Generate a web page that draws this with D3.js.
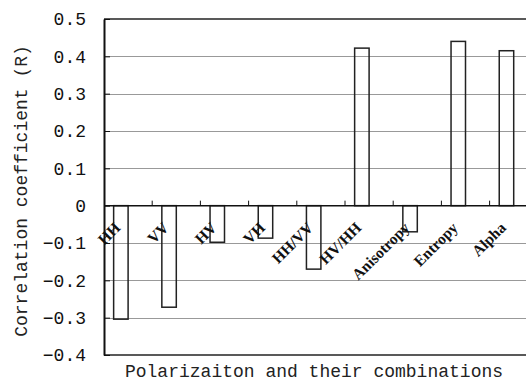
<!DOCTYPE html>
<html>
<head>
<meta charset="utf-8">
<script src="https://cdn.jsdelivr.net/npm/d3@7"></script>
<style>
  html, body { margin: 0; padding: 0; background: #fff; }
  svg { display: block; overflow: hidden; }
</style>
</head>
<body>
<div id="chart"></div>
<script>
const categories = ['HH', 'VV', 'HV', 'VH', 'HH/VV', 'HV/HH', 'Anisotropy', 'Entropy', 'Alpha'];
const values = [-0.304, -0.272, -0.098, -0.087, -0.17, 0.422, -0.07, 0.44, 0.415];
const yTicks = [0.5, 0.4, 0.3, 0.2, 0.1, 0, -0.1, -0.2, -0.3, -0.4];

const width = 526;
const height = 383;
const margin = { top: 19, left: 104, bottom: 28 };
const bandW = 48.2;

const svg = d3.select('#chart').append('svg')
  .attr('width', width)
  .attr('height', height);

const x = d3.scaleBand()
  .domain(categories)
  .range([margin.left, margin.left + bandW * categories.length])
  .padding(0);

const y = d3.scaleLinear()
  .domain([-0.4, 0.5])
  .range([height - margin.bottom, margin.top]);

const right = x.range()[1];
const mono = '"Liberation Mono", "DejaVu Sans Mono", monospace';

// gridlines
svg.append('g')
  .attr('transform', `translate(${margin.left},0)`)
  .call(d3.axisLeft(y).tickValues(yTicks.filter(d => d !== 0 && d !== 0.5 && d !== -0.4))
    .tickSize(-(right - margin.left)).tickFormat(''))
  .call(g => g.select('.domain').remove())
  .call(g => g.selectAll('line').attr('stroke', '#999').attr('shape-rendering', 'crispEdges'));

// plot border top / bottom
svg.append('line')
  .attr('x1', margin.left).attr('x2', right)
  .attr('y1', y(0.5)).attr('y2', y(0.5))
  .attr('stroke', '#222').attr('stroke-width', 1.5);
svg.append('line')
  .attr('x1', margin.left).attr('x2', right)
  .attr('y1', y(-0.4)).attr('y2', y(-0.4))
  .attr('stroke', '#222').attr('stroke-width', 1.5);

// bars, outline only
svg.append('g')
  .selectAll('rect')
  .data(categories)
  .join('rect')
  .attr('x', d => x(d) + x.bandwidth() * 0.2)
  .attr('y', (d, i) => y(Math.max(0, values[i])))
  .attr('width', x.bandwidth() * 0.3)
  .attr('height', (d, i) => Math.abs(y(values[i]) - y(0)))
  .attr('fill', 'none')
  .attr('stroke', '#222')
  .attr('stroke-width', 1.5);

// zero axis with upward category ticks
svg.append('line')
  .attr('x1', margin.left).attr('x2', right)
  .attr('y1', y(0)).attr('y2', y(0))
  .attr('stroke', '#111').attr('stroke-width', 1.5);
svg.append('g')
  .selectAll('line')
  .data(categories.slice(1))
  .join('line')
  .attr('x1', d => x(d)).attr('x2', d => x(d))
  .attr('y1', y(0)).attr('y2', y(0) - 5)
  .attr('stroke', '#111').attr('stroke-width', 1);

// y axis
svg.append('g')
  .attr('transform', `translate(${margin.left},0)`)
  .call(d3.axisRight(y).tickValues(yTicks).tickSize(6).tickFormat(''))
  .call(g => g.select('.domain').remove())
  .call(g => g.selectAll('line').attr('stroke', '#111').attr('stroke-width', 1));

svg.append('g')
  .attr('transform', `translate(${margin.left},0)`)
  .call(d3.axisLeft(y).tickValues(yTicks).tickSize(0).tickPadding(18).tickFormat(d3.format('.1~f')))
  .call(g => g.select('.domain').attr('stroke', '#111').attr('stroke-width', 2))
  .call(g => g.selectAll('text')
    .attr('fill', '#111')
    .style('font-family', mono)
    .style('font-size', '18px'));

// category labels, 45 degrees
svg.append('g')
  .selectAll('text')
  .data(categories)
  .join('text')
  .attr('transform', d => `translate(${x(d) + x.bandwidth() * 0.36},${y(0) + 23}) rotate(-45)`)
  .attr('text-anchor', 'end')
  .style('font-family', '"Liberation Serif", "Times New Roman", serif')
  .style('font-weight', 'bold')
  .style('font-size', '15.5px')
  .attr('fill', '#111')
  .text(d => d);

// axis titles
svg.append('text')
  .attr('transform', 'translate(27,191) rotate(-90)')
  .attr('text-anchor', 'middle')
  .style('font-family', mono)
  .style('font-size', '18px')
  .attr('fill', '#222')
  .text('Correlation coefficient (R)');

svg.append('text')
  .attr('x', 314)
  .attr('y', 377)
  .attr('text-anchor', 'middle')
  .style('font-family', mono)
  .style('font-size', '18px')
  .attr('fill', '#222')
  .text('Polarizaiton and their combinations');
</script>
</body>
</html>
